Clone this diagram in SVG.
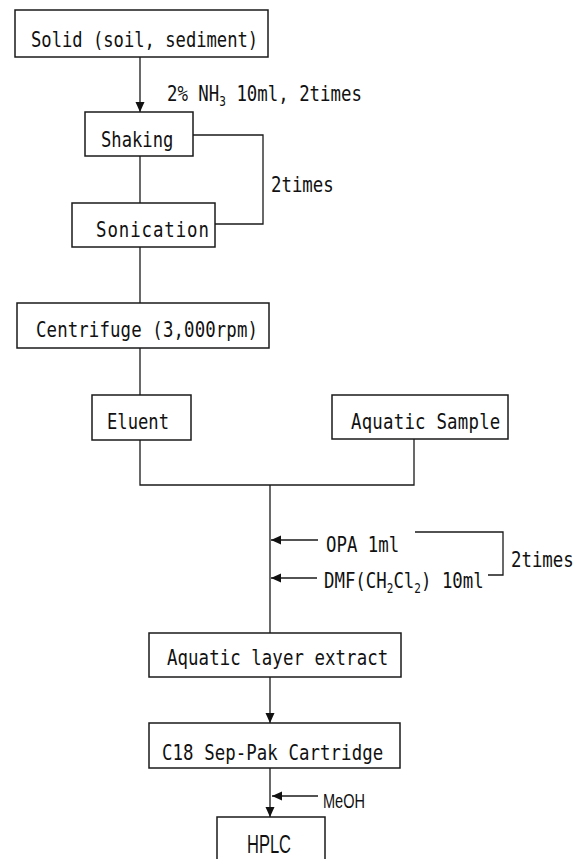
<svg xmlns="http://www.w3.org/2000/svg" width="579" height="859" viewBox="0 0 579 859">
<style>
.bg{fill:#ffffff}
.box{fill:#ffffff;stroke:#1a1a1a;stroke-width:1.5}
.ln{fill:none;stroke:#1a1a1a;stroke-width:1.3}
.m{font-family:"DejaVu Sans Mono","Liberation Mono",monospace;font-size:22px;fill:#111}
.s{font-size:14px}
.p{font-family:"Liberation Sans",Arial,sans-serif;fill:#111}
</style>
<defs>
<marker id="ah" markerUnits="userSpaceOnUse" markerWidth="10" markerHeight="12" viewBox="0 0 10 12" refX="10" refY="6" orient="auto">
<path d="M0,1.5 L10,6 L0,10.5 Z" fill="#111"/>
</marker>
</defs>
<rect class="bg" x="0" y="0" width="579" height="859"/>

<g id="connectors">
<line class="ln" x1="140" y1="57" x2="140" y2="112" marker-end="url(#ah)"/>
<line class="ln" x1="140" y1="156" x2="140" y2="203"/>
<polyline class="ln" points="193,135 263,135 263,224 215,224"/>
<line class="ln" x1="140" y1="247" x2="140" y2="303"/>
<line class="ln" x1="140" y1="348" x2="140" y2="395"/>
<polyline class="ln" points="140,440 140,485 414,485 414,439"/>
<line class="ln" x1="270" y1="485" x2="270" y2="633"/>
<line class="ln" x1="318" y1="540" x2="271" y2="540" marker-end="url(#ah)"/>
<line class="ln" x1="317" y1="578" x2="271" y2="578" marker-end="url(#ah)"/>
<polyline class="ln" points="415,532 503,532 503,575 488,575"/>
<line class="ln" x1="270" y1="677" x2="270" y2="723" marker-end="url(#ah)"/>
<line class="ln" x1="270" y1="768" x2="270" y2="817" marker-end="url(#ah)"/>
<line class="ln" x1="318" y1="796" x2="272" y2="796" marker-end="url(#ah)"/>
</g>

<g id="solid">
<rect class="box" x="15" y="10" width="253" height="47"/>
<text class="m" transform="translate(31,47) scale(0.78,1)">Solid (soil, sediment)</text>
</g>

<g id="label-nh3">
<text class="m" transform="translate(167,101) scale(0.79,1)">2% NH<tspan class="s" dy="5">3</tspan><tspan dy="-5"> 10ml, 2times</tspan></text>
</g>

<g id="shaking">
<rect class="box" x="85" y="112" width="108" height="44"/>
<text class="m" transform="translate(101,147) scale(0.78,1)">Shaking</text>
</g>

<g id="label-2times-1">
<text class="m" transform="translate(271,192) scale(0.79,1)">2times</text>
</g>

<g id="sonication">
<rect class="box" x="72" y="203" width="143" height="44"/>
<text class="m" transform="translate(96,237) scale(0.79,1)" textLength="143" lengthAdjust="spacing">Sonication</text>
</g>

<g id="centrifuge">
<rect class="box" x="17" y="303" width="252" height="45"/>
<text class="m" transform="translate(36,337) scale(0.79,1)" textLength="281" lengthAdjust="spacing">Centrifuge (3,000rpm)</text>
</g>

<g id="eluent">
<rect class="box" x="92" y="395" width="99" height="45"/>
<text class="m" transform="translate(107,429) scale(0.78,1)">Eluent</text>
</g>

<g id="aquatic-sample">
<rect class="box" x="332" y="395" width="176" height="44"/>
<text class="m" transform="translate(351,429) scale(0.79,1)" textLength="189" lengthAdjust="spacing">Aquatic Sample</text>
</g>

<g id="label-opa">
<text class="m" transform="translate(326,552) scale(0.79,1)">OPA 1ml</text>
</g>

<g id="label-dmf">
<text class="m" transform="translate(324,588) scale(0.79,1)">DMF(CH<tspan class="s" dy="5">2</tspan><tspan dy="-5">Cl</tspan><tspan class="s" dy="5">2</tspan><tspan dy="-5">) 10ml</tspan></text>
</g>

<g id="label-2times-2">
<text class="m" transform="translate(511,567) scale(0.79,1)">2times</text>
</g>

<g id="aquatic-layer">
<rect class="box" x="149" y="633" width="252" height="44"/>
<text class="m" transform="translate(167,665) scale(0.79,1)" textLength="280" lengthAdjust="spacing">Aquatic layer extract</text>
</g>

<g id="c18">
<rect class="box" x="149" y="723" width="251" height="45"/>
<text class="m" transform="translate(162,760) scale(0.79,1)" textLength="280" lengthAdjust="spacing">C18 Sep-Pak Cartridge</text>
</g>

<g id="label-meoh">
<text class="p" x="323" y="808" font-size="20" textLength="42" lengthAdjust="spacingAndGlyphs">MeOH</text>
</g>

<g id="hplc">
<rect class="box" x="217" y="817" width="108" height="60"/>
<text class="p" x="247" y="853" font-size="25" textLength="44" lengthAdjust="spacingAndGlyphs">HPLC</text>
</g>
</svg>
